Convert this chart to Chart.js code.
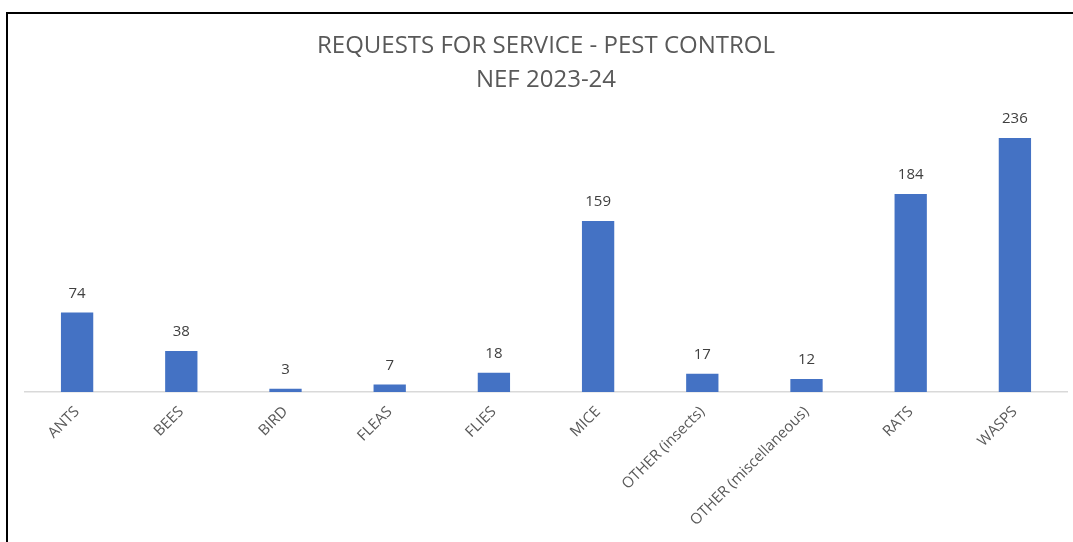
<!DOCTYPE html>
<html>
<head>
<meta charset="utf-8">
<script src="https://cdn.jsdelivr.net/npm/chart.js@4/dist/chart.umd.min.js"></script>
<style>
  html, body { margin: 0; padding: 0; background: #fff; }
  #wrap { position: relative; width: 1073px; height: 542px; }
</style>
</head>
<body>
<div id="wrap"><canvas id="pestChart"></canvas></div>
<script>
  const titleLines = ["REQUESTS FOR SERVICE - PEST CONTROL", "NEF 2023-24"];
  const categories = [
    "ANTS", "BEES", "BIRD", "FLEAS", "FLIES", "MICE",
    "OTHER (insects)", "OTHER (miscellaneous)", "RATS", "WASPS"
  ];
  const requests = [74, 38, 3, 7, 18, 159, 17, 12, 184, 236];

  const FONT = "'Open Sans', 'Noto Sans', sans-serif";

  // Outer frame lines (left and top edges of the pasted chart)
  const framePlugin = {
    id: "frame",
    afterDraw(chart) {
      const ctx = chart.ctx;
      ctx.save();
      ctx.strokeStyle = "#000";
      ctx.lineWidth = 2;
      ctx.beginPath();
      ctx.moveTo(7, chart.height);
      ctx.lineTo(7, 13);
      ctx.lineTo(chart.width, 13);
      ctx.stroke();
      ctx.restore();
    },
  };

  // Value labels above each bar
  const valueLabels = {
    id: "valueLabels",
    afterDatasetsDraw(chart) {
      const ctx = chart.ctx;
      const meta = chart.getDatasetMeta(0);
      ctx.save();
      ctx.font = "15px " + FONT;
      ctx.fillStyle = "#404040";
      ctx.textAlign = "center";
      ctx.textBaseline = "middle";
      meta.data.forEach((bar, i) => {
        ctx.fillText(String(requests[i]), bar.x, bar.y - 19);
      });
      ctx.restore();
    },
  };

  new Chart(document.getElementById("pestChart"), {
    type: "bar",
    data: {
      labels: categories,
      datasets: [
        {
          data: requests,
          backgroundColor: "#4472C4",
          borderWidth: 0,
          barPercentage: 0.62,
          categoryPercentage: 0.5,
        },
      ],
    },
    options: {
      responsive: true,
      maintainAspectRatio: false,
      animation: false,
      layout: { padding: { left: 25, right: 6, top: 0, bottom: 0 } },
      plugins: {
        legend: { display: false },
        tooltip: { enabled: false },
        title: {
          display: true,
          text: titleLines,
          color: "#595959",
          font: { family: FONT, size: 24, weight: "normal", lineHeight: 1.38 },
          padding: { top: 30, bottom: 16 },
        },
      },
      scales: {
        x: {
          grid: { display: false, drawTicks: false },
          border: { display: true, color: "#D9D9D9", width: 1.5 },
          ticks: {
            color: "#595959",
            font: { family: FONT, size: 15 },
            minRotation: 45,
            maxRotation: 45,
            autoSkip: false,
            padding: 11,
          },
          afterFit(scale) {
            scale.height = 150;
          },
        },
        y: {
          display: false,
          min: 0,
          max: 260,
        },
      },
    },
    plugins: [framePlugin, valueLabels],
  });
</script>
</body>
</html>
